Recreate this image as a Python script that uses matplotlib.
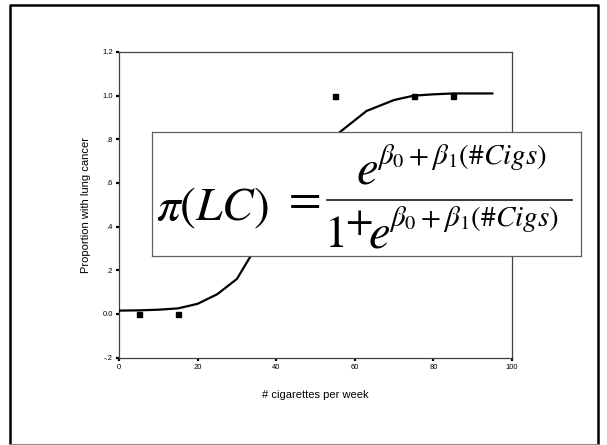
import matplotlib
matplotlib.use("Agg")
import matplotlib.pyplot as plt
from matplotlib.lines import Line2D

plt.rcParams["mathtext.fontset"] = "stix"
plt.rcParams["font.family"] = ["Liberation Sans", "DejaVu Sans"]

# observed proportions
cigs = [5, 15, 55, 75, 85]
lung = [0, 0, 1, 1, 1]

# fitted curve
fit_x = [0, 5, 10, 15, 20, 25, 30, 33, 37, 41, 45, 50, 56, 63, 70, 75, 80, 85, 90, 95]
fit_y = [0.015, 0.016, 0.019, 0.025, 0.046, 0.09, 0.16, 0.25, 0.36, 0.48, 0.6, 0.72, 0.83,
         0.93, 0.98, 1.0, 1.006, 1.01, 1.01, 1.01]

xticks = [0, 20, 40, 60, 80, 100]
yticks = [-0.2, 0.0, 0.2, 0.4, 0.6, 0.8, 1.0, 1.2]
ytick_labels = ["-.2", "0.0", ".2", ".4", ".6", ".8", "1.0", "1.2"]

W, H = 607, 445


def fx(x):
    return x / W


def fy(y):
    return 1 - y / H


fig = plt.figure(figsize=(W / 100, H / 100), dpi=100)

ax = fig.add_axes([fx(119), fy(357.5), fx(512) - fx(119), fy(52) - fy(357.5)])
ax.plot(fit_x, fit_y, color="black", lw=1.6, zorder=3)
ax.plot(cigs, lung, "s", color="black", ms=3.6, zorder=2)
ax.set_xlim(0, 100)
ax.set_ylim(-0.2, 1.2)
ax.set_xticks(xticks)
ax.set_yticks(yticks)
ax.set_yticklabels(ytick_labels)
for s in ax.spines.values():
    s.set_color("#404040")
    s.set_linewidth(0.9)
ax.tick_params(direction="out", length=2.5, width=1.6, labelsize=5.5, pad=2, colors="black")
ax.set_xlabel("# cigarettes per week", fontsize=8, labelpad=14)
ax.set_ylabel("Proportion with lung cancer", fontsize=8, labelpad=8)

# formula box
box = fig.add_axes([fx(152), fy(256), fx(581) - fx(152), fy(132) - fy(256)])
box.set_xticks([])
box.set_yticks([])
box.set_facecolor("white")
for s in box.spines.values():
    s.set_color("#606060")
    s.set_linewidth(0.9)

big = 34
sup = 21
expo = r"$\beta_0+\beta_1($#$Cigs)$"
kw = dict(va="baseline", ha="left")
fig.text(fx(156), fy(220), r"$\pi(LC)$", fontsize=big, **kw)
fig.text(fx(301), fy(200), r"$=$", fontsize=big, va="center", ha="center")
fig.add_artist(Line2D([fx(327), fx(572)], [fy(200), fy(200)], color="black", lw=1.1))
# numerator
fig.text(fx(356), fy(183), r"$e$", fontsize=big + 1, **kw)
fig.text(fx(377), fy(164), expo, fontsize=sup, family="STIXGeneral", **kw)
# denominator
fig.text(fx(324), fy(247), r"$1$", fontsize=big - 1, **kw)
fig.text(fx(359), fy(223), "+", fontsize=29, family="STIXGeneral", va="center", ha="center")
fig.text(fx(368), fy(247), r"$e$", fontsize=big + 1, **kw)
fig.text(fx(389), fy(226), expo, fontsize=sup, family="STIXGeneral", **kw)

# slide border
fig.add_artist(Line2D([fx(10), fx(10), fx(598), fx(598)], [fy(443), fy(5), fy(5), fy(443)],
                      color="black", lw=1.8))
fig.add_artist(Line2D([fx(10), fx(598)], [fy(443.5), fy(443.5)], color="#909090", lw=0.8))

fig.savefig("out.png", dpi=100)
